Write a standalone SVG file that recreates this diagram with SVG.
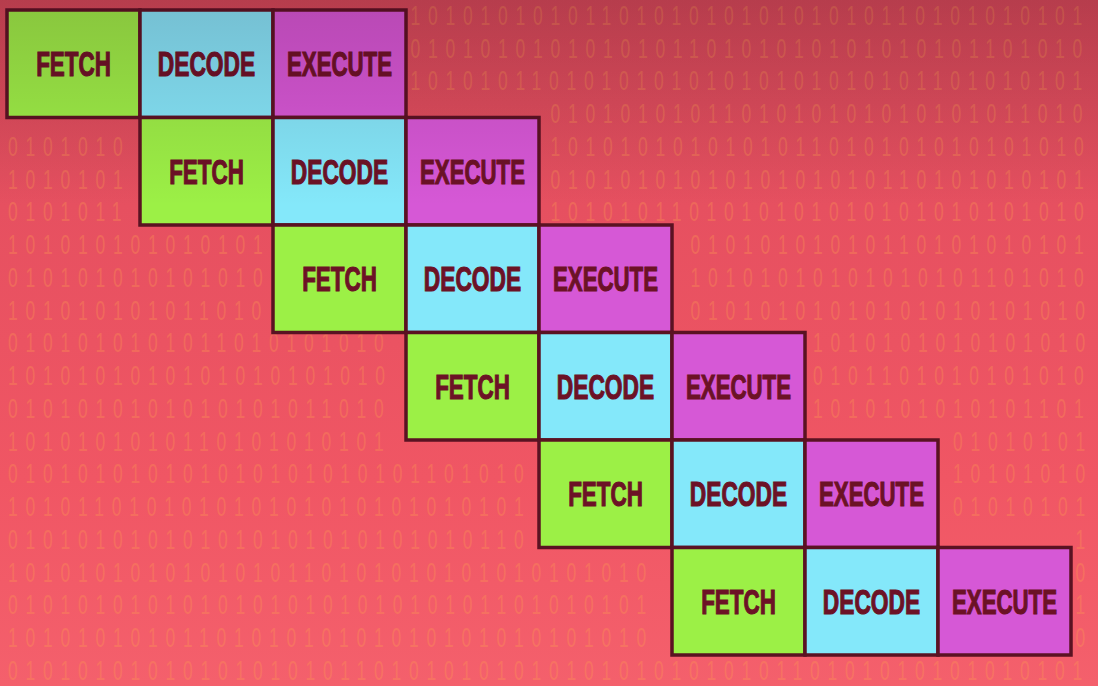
<svg xmlns="http://www.w3.org/2000/svg" width="1098" height="686" viewBox="0 0 1098 686">
<defs>
<linearGradient id="bg" x1="0" y1="0" x2="0" y2="686" gradientUnits="userSpaceOnUse">
<stop offset="0" stop-color="#d44a58"/>
<stop offset="0.3" stop-color="#e65060"/>
<stop offset="0.7" stop-color="#f05664"/>
<stop offset="1" stop-color="#f4606c"/>
</linearGradient>
<linearGradient id="shade" x1="0" y1="0" x2="0" y2="686" gradientUnits="userSpaceOnUse">
<stop offset="0" stop-color="#300018" stop-opacity="0.18"/>
<stop offset="0.2" stop-color="#300018" stop-opacity="0.06"/>
<stop offset="0.3" stop-color="#300018" stop-opacity="0"/>
</linearGradient>
<style>
.bin{font-family:"Liberation Sans",Arial,sans-serif;font-size:27px;letter-spacing:11.9px;fill:#ffa050;opacity:.3}
.cell{stroke:#5a1222;stroke-width:3.5}
.f{fill:#9cf046}
.d{fill:#84e8fa}
.e{fill:#d658d6}
.lbl{font-family:"Liberation Sans",Arial,sans-serif;font-weight:bold;font-size:35px;fill:#6c1226;stroke:#6c1226;stroke-width:1.2;text-anchor:middle}
</style>
</defs>
<rect width="1098" height="686" fill="url(#bg)"/>
<g id="binary" transform="scale(0.65,1)">
<text class="bin" x="631.5" y="25">101010101011010101010101010110101010101</text>
<text class="bin" x="631.5" y="57.75">010101010101010110101010101010101101010</text>
<text class="bin" x="631.5" y="90.5">101010110101010101010101010101101010101</text>
<text class="bin" x="846.9" y="123.25">0101010101101010101010101011010</text>
<text class="bin" x="12.31" y="156">0101010</text>
<text class="bin" x="846.9" y="156">1010101010101011010101010101010</text>
<text class="bin" x="12.31" y="188.75">1010101</text>
<text class="bin" x="846.9" y="188.75">0101010101010101010110101010101</text>
<text class="bin" x="12.31" y="221.5">0101011</text>
<text class="bin" x="846.9" y="221.5">1010101101010101010101010101010</text>
<text class="bin" x="12.31" y="254.25">101010101010101</text>
<text class="bin" x="1062.3" y="254.25">01010101010110101010101</text>
<text class="bin" x="12.31" y="287">010101010101010</text>
<text class="bin" x="1062.3" y="287">10101010101010101101010</text>
<text class="bin" x="12.31" y="319.75">101010101011010</text>
<text class="bin" x="1062.3" y="319.75">01010101010101010101010</text>
<text class="bin" x="12.31" y="352.5">0101010101011010101010</text>
<text class="bin" x="1250.8" y="352.5">1010101010101010</text>
<text class="bin" x="12.31" y="385.25">1010101010101010101010</text>
<text class="bin" x="1250.8" y="385.25">0101101010101010</text>
<text class="bin" x="12.31" y="418">0101010101010101011010</text>
<text class="bin" x="1250.8" y="418">1010101010101101</text>
<text class="bin" x="12.31" y="450.75">1010101010110101010101</text>
<text class="bin" x="1466.2" y="450.75">01010101</text>
<text class="bin" x="12.31" y="483.5">010101010101010101010101101010</text>
<text class="bin" x="1466.2" y="483.5">10101010</text>
<text class="bin" x="12.31" y="516.25">101011010101010101010101010101</text>
<text class="bin" x="1466.2" y="516.25">01010101</text>
<text class="bin" x="12.31" y="549">010101010101010101010101010110</text>
<text class="bin" x="1654.6" y="549">1</text>
<text class="bin" x="12.31" y="581.75">1010101010101010110101010101010101010</text>
<text class="bin" x="1654.6" y="581.75">0</text>
<text class="bin" x="12.31" y="614.5">0101010101010101010101010101101010101</text>
<text class="bin" x="1654.6" y="614.5">1</text>
<text class="bin" x="12.31" y="647.25">1010101010110101010101010101010101010</text>
<text class="bin" x="1654.6" y="647.25">0</text>
<text class="bin" x="12.31" y="680">01010101010101010101101010101010101010101010110101010101010101</text>
</g>
<g id="row1">
<g id="r1-fetch"><rect class="cell f" x="7" y="10" width="133" height="107.5"/><text class="lbl" transform="translate(73.5 76) scale(0.64 1)">FETCH</text></g>
<g id="r1-decode"><rect class="cell d" x="140" y="10" width="133" height="107.5"/><text class="lbl" transform="translate(206.5 76) scale(0.65 1)">DECODE</text></g>
<g id="r1-execute"><rect class="cell e" x="273" y="10" width="133" height="107.5"/><text class="lbl" transform="translate(339.5 76) scale(0.635 1)">EXECUTE</text></g>
</g>
<g id="row2">
<g id="r2-fetch"><rect class="cell f" x="140" y="117.5" width="133" height="107.5"/><text class="lbl" transform="translate(206.5 183.5) scale(0.64 1)">FETCH</text></g>
<g id="r2-decode"><rect class="cell d" x="273" y="117.5" width="133" height="107.5"/><text class="lbl" transform="translate(339.5 183.5) scale(0.65 1)">DECODE</text></g>
<g id="r2-execute"><rect class="cell e" x="406" y="117.5" width="133" height="107.5"/><text class="lbl" transform="translate(472.5 183.5) scale(0.635 1)">EXECUTE</text></g>
</g>
<g id="row3">
<g id="r3-fetch"><rect class="cell f" x="273" y="225" width="133" height="107.5"/><text class="lbl" transform="translate(339.5 291) scale(0.64 1)">FETCH</text></g>
<g id="r3-decode"><rect class="cell d" x="406" y="225" width="133" height="107.5"/><text class="lbl" transform="translate(472.5 291) scale(0.65 1)">DECODE</text></g>
<g id="r3-execute"><rect class="cell e" x="539" y="225" width="133" height="107.5"/><text class="lbl" transform="translate(605.5 291) scale(0.635 1)">EXECUTE</text></g>
</g>
<g id="row4">
<g id="r4-fetch"><rect class="cell f" x="406" y="332.5" width="133" height="107.5"/><text class="lbl" transform="translate(472.5 398.5) scale(0.64 1)">FETCH</text></g>
<g id="r4-decode"><rect class="cell d" x="539" y="332.5" width="133" height="107.5"/><text class="lbl" transform="translate(605.5 398.5) scale(0.65 1)">DECODE</text></g>
<g id="r4-execute"><rect class="cell e" x="672" y="332.5" width="133" height="107.5"/><text class="lbl" transform="translate(738.5 398.5) scale(0.635 1)">EXECUTE</text></g>
</g>
<g id="row5">
<g id="r5-fetch"><rect class="cell f" x="539" y="440" width="133" height="107.5"/><text class="lbl" transform="translate(605.5 506) scale(0.64 1)">FETCH</text></g>
<g id="r5-decode"><rect class="cell d" x="672" y="440" width="133" height="107.5"/><text class="lbl" transform="translate(738.5 506) scale(0.65 1)">DECODE</text></g>
<g id="r5-execute"><rect class="cell e" x="805" y="440" width="133" height="107.5"/><text class="lbl" transform="translate(871.5 506) scale(0.635 1)">EXECUTE</text></g>
</g>
<g id="row6">
<g id="r6-fetch"><rect class="cell f" x="672" y="547.5" width="133" height="107.5"/><text class="lbl" transform="translate(738.5 613.5) scale(0.64 1)">FETCH</text></g>
<g id="r6-decode"><rect class="cell d" x="805" y="547.5" width="133" height="107.5"/><text class="lbl" transform="translate(871.5 613.5) scale(0.65 1)">DECODE</text></g>
<g id="r6-execute"><rect class="cell e" x="938" y="547.5" width="133" height="107.5"/><text class="lbl" transform="translate(1004.5 613.5) scale(0.635 1)">EXECUTE</text></g>
</g>
<rect id="vignette" width="1098" height="686" fill="url(#shade)" pointer-events="none"/>
</svg>
